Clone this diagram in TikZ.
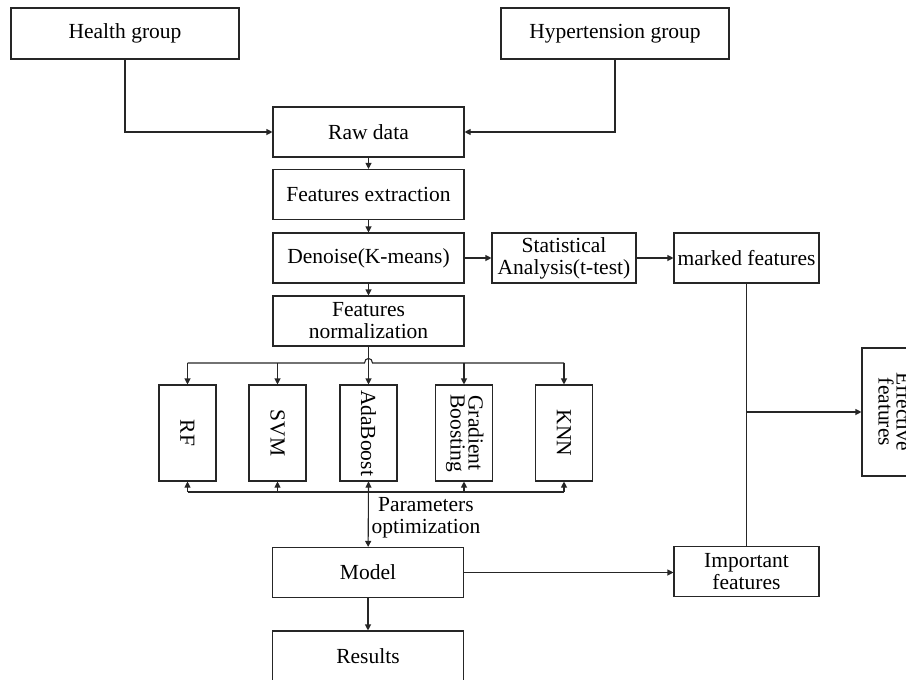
\documentclass[tikz,border=0pt]{standalone}
\usepackage{fontspec}
\setmainfont{Liberation Serif}
\usetikzlibrary{arrows.meta}

\tikzset{
  box/.style={draw=black!85, line width=1.1pt, minimum width=191pt, minimum height=50pt,
    inner sep=0pt, align=center, font=\fontsize{21.5}{22}\selectfont},
  small/.style={box, minimum width=145pt},
  algo/.style={box, minimum width=57pt, minimum height=96pt},
  line/.style={draw=black!85, line width=1.1pt},
  arr/.style={line, -{Triangle[length=6pt,width=6pt]}}
}

\begin{document}
\begin{tikzpicture}[x=1pt,y=-1pt]
\useasboundingbox (0,0) rectangle (906,680);

\node[box, minimum width=228pt, minimum height=51pt] (health) at (125,33.5) {Health group};
\node[box, minimum width=228pt, minimum height=51pt] (hyper) at (615,33.5) {Hypertension group};
\node[box] (raw) at (368.5,132) {Raw data};
\node[box] (extract) at (368.5,194.5) {Features extraction};
\node[box] (denoise) at (368.5,258) {Denoise(K-means)};
\node[box] (norm) at (368.5,321) {Features\\normalization};
\node[small, minimum width=144pt] (stat) at (564,258) {Statistical\\Analysis(t-test)};
\node[small] (marked) at (746.5,258) {marked features};

% classifiers
\node[algo] (rf) at (187.5,433) {\rotatebox{-90}{RF}};
\node[algo] (svm) at (277.5,433) {\rotatebox{-90}{SVM}};
\node[algo] (ada) at (368.5,433) {\rotatebox{-90}{AdaBoost}};
\node[algo] (gb) at (464,433) {\rotatebox{-90}{\begin{tabular}{@{}c@{}}Gradient\\[-4pt]Boosting\end{tabular}}};
\node[algo] (knn) at (564,433) {\rotatebox{-90}{KNN}};

\node[box] (model) at (368,572.5) {Model};
\node[box] (results) at (368,656) {Results};
\node[small] (important) at (746.5,571.5) {Important\\features};
\node[box, minimum width=60pt, minimum height=128pt] (effective) at (892,412)
  {\rotatebox{-90}{\begin{tabular}{@{}c@{}}Effective\\[-4pt]features\end{tabular}}};

\coordinate (split) at (368.5,363);
\coordinate (join) at (368.5,492);

\draw[arr] (health.south) |- (raw.west);
\draw[arr] (hyper.south) |- (raw.east);
\draw[arr] (raw) -- (extract);
\draw[arr] (extract) -- (denoise);
\draw[arr] (denoise) -- (norm);
\draw[arr] (denoise) -- (stat);
\draw[arr] (stat) -- (marked);

% distribution line with a hop
\draw[line] (rf.north |- split) -- ([xshift=-4pt]split)
  .. controls ([xshift=-4pt,yshift=6pt]split) and ([xshift=4pt,yshift=6pt]split) .. ([xshift=4pt]split)
  -- (knn.north |- split);
\foreach \m in {rf,svm,gb,knn}
  \draw[arr] (\m.north |- split) -- (\m.north);
\draw[arr] (norm) -- (ada);

% parameters optimization
\draw[line] (rf.south |- join) -- (knn.south |- join);
\foreach \m in {rf,svm,ada,gb,knn}
  \draw[arr] (\m.south |- join) -- (\m.south);
\draw[arr] (ada.south) -- (model);
\node[align=center, font=\fontsize{21.5}{22}\selectfont] (param) at (426,518) {Parameters\\optimization};

\draw[arr] (model) -- (results);
\draw[arr] (model.east) -- (model.east -| important.west);
\draw[line] (marked.south) -- (important.north);
\draw[arr] (marked.south |- effective.west) -- (effective.west);
\end{tikzpicture}
\end{document}
